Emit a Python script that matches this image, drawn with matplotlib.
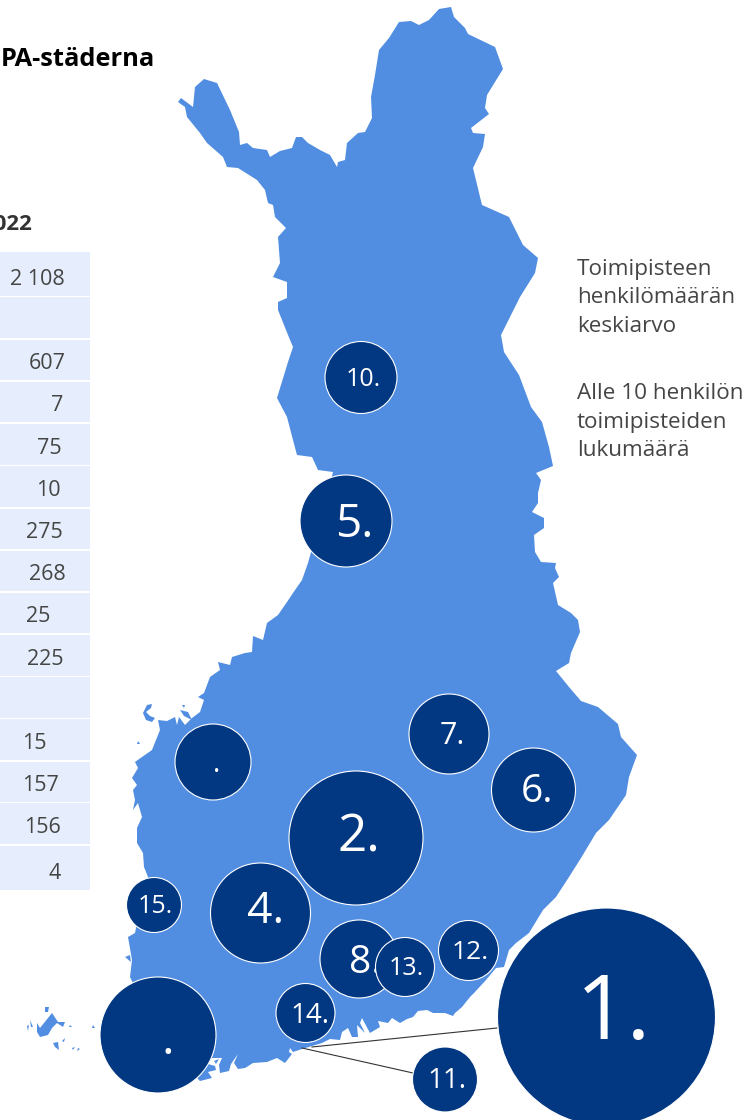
import matplotlib
matplotlib.use('Agg')
from matplotlib import pyplot as plt
from matplotlib.patches import Circle, Polygon, Rectangle

plt.rcParams['font.family'] = ['Open Sans', 'DejaVu Sans']

# map outline in pixels
map_xy = [
    (178, 102), (181, 98), (193, 107), (195, 87), (204, 79), (217, 83), (230, 110), (239, 132),
    (240, 145), (247, 143), (253, 148), (267, 150), (270, 157), (280, 151), (292, 148), (296, 137),
    (302, 137), (308, 143), (320, 150), (330, 155), (337, 167), (338, 162), (345, 160), (347, 143),
    (358, 133), (365, 132), (372, 118), (371, 97), (375, 75), (379, 50), (389, 38), (399, 22),
    (411, 21), (419, 25), (429, 20), (439, 9), (451, 7), (454, 17), (465, 28), (468, 34),
    (495, 47), (503, 69), (487, 95), (485, 108), (489, 114), (471, 128), (473, 133), (485, 134),
    (483, 147), (473, 168), (482, 205), (509, 217), (523, 245), (538, 258), (535, 273), (520, 297),
    (501, 335), (504, 352), (519, 375), (531, 407), (542, 422), (549, 447), (553, 466), (536, 473),
    (541, 480), (538, 493), (538, 503), (532, 512), (544, 518), (544, 528), (534, 535), (535, 552),
    (541, 562), (556, 563), (555, 568), (559, 577), (553, 583), (558, 605), (571, 613), (578, 620),
    (580, 632), (571, 653), (569, 663), (556, 671), (569, 687), (581, 701), (598, 707), (618, 724),
    (621, 737), (637, 755), (629, 777), (626, 795), (609, 820), (596, 833), (581, 858), (569, 877),
    (556, 897), (543, 910), (529, 933), (516, 943), (509, 950), (504, 967), (496, 968), (486, 980),
    (474, 993), (470, 997), (462, 1007), (455, 1013), (453, 1016), (445, 1013), (433, 1013), (427, 1010),
    (418, 1011), (413, 1017), (407, 1019), (400, 1023), (392, 1018), (388, 1023), (378, 1021), (380, 1027),
    (370, 1033), (362, 1018), (360, 1023), (365, 1033), (357, 1025), (358, 1037), (352, 1037), (348, 1028),
    (342, 1032), (340, 1040), (330, 1039), (322, 1043), (302, 1049), (293, 1052), (290, 1048), (289, 1052),
    (292, 1054), (285, 1063), (277, 1058), (267, 1062), (253, 1063), (245, 1068), (238, 1069), (234, 1063),
    (238, 1054), (231, 1064), (229, 1071), (220, 1073), (219, 1065), (222, 1058), (212, 1058), (208, 1064),
    (215, 1066), (216, 1070), (208, 1072), (212, 1078), (200, 1081), (160, 1040), (130, 977), (132, 960),
    (128, 937), (135, 933), (137, 923), (148, 877), (144, 867), (143, 853), (137, 843), (137, 828),
    (142, 817), (138, 803), (133, 810), (135, 800), (133, 790), (137, 785), (132, 778), (138, 768),
    (135, 762), (142, 757), (152, 750), (160, 730), (158, 720), (167, 721), (175, 717), (177, 725),
    (179, 717), (185, 725), (192, 718), (200, 712), (204, 700), (198, 697), (204, 693), (210, 677),
    (220, 670), (218, 662), (230, 665), (232, 657), (245, 653), (252, 652), (253, 636), (263, 640),
    (267, 623), (278, 615), (287, 602), (293, 593), (302, 580), (308, 563), (320, 520), (333, 472),
    (318, 470), (312, 457), (297, 455), (293, 440), (287, 417), (277, 398), (288, 362), (293, 347),
    (288, 335), (278, 310), (278, 302), (287, 298), (287, 282), (273, 277), (280, 263), (278, 237),
    (286, 228), (275, 217), (273, 205), (268, 203), (265, 190), (257, 180), (238, 168), (227, 167),
    (223, 157), (207, 143), (200, 133), (187, 117), (185, 107),
]
# Aland and the small islands along the coast
islands_xy = [
    [(37, 1023), (40, 1028), (48, 1018), (52, 1013), (58, 1022), (65, 1022), (63, 1027), (57, 1023),
     (52, 1028), (48, 1035), (40, 1037), (37, 1032)],
    [(45, 1007), (49, 1007), (48, 1012), (45, 1012)],
    [(30, 1020), (33, 1027), (31, 1027)],
    [(27, 1026), (29, 1025), (28, 1031)],
    [(53, 1043), (58, 1042), (59, 1050), (55, 1047)],
    [(62, 1041), (65, 1038), (64, 1042)],
    [(70, 1025), (72, 1027), (69, 1027)],
    [(72, 1048), (75, 1047), (73, 1050)],
    [(78, 1048), (80, 1049), (77, 1051)],
    [(93, 1025), (95, 1028), (92, 1028)],
    [(143, 713), (147, 705), (152, 704), (151, 708), (146, 712), (150, 716), (155, 718), (152, 722), (146, 720)],
    [(138, 741), (140, 744), (137, 744)],
    [(180, 710), (188, 712), (192, 720), (184, 716)],
    [(182, 705), (185, 705), (184, 708)],
    [(125, 957), (130, 955), (131, 962)],
    [(214, 1061), (219, 1059), (216, 1064)],
]

# bubbles
bubble_x = [606.5, 356, 260.5, 346, 533.5, 449, 359, 361, 445, 468.5, 405, 305.5, 154, 158, 213]
bubble_y = [1017, 838, 913, 521, 790, 734, 959, 377.5, 1079.5, 950.5, 967, 1013, 905, 1035, 762]
bubble_r = [109, 67, 50, 46, 42, 40, 39, 36, 32.5, 30, 29.5, 29.5, 27.5, 58, 38]
bubble_labels = ['1.', '2.', '4.', '5.', '6.', '7.', '8.', '10.', '11.', '12.', '13.', '14.', '15.', '.', '.']
label_x = [613, 359, 266, 354, 537, 452, 365, 363, 447, 470, 406, 310, 155, 168, 217]
label_y = [1039, 852, 923, 537, 802, 744, 973, 386, 1088, 959, 975, 1023, 913, 1054, 772]
label_size = [65, 37, 32, 33, 28, 22, 28, 18, 20, 19, 18, 20, 18, 35, 20]

# table column
table_values = ['2 108', '', '607', '7', '75', '10', '275', '268', '25', '225', '', '15', '157', '156', '4']
row_top = [252, 297, 340, 382, 424, 466, 509, 551, 593, 635, 677, 719, 762, 803, 846]
row_bottom = [296, 338, 380, 422, 465, 507, 549, 591, 633, 676, 718, 760, 802, 844, 890]
value_right = [65, 65, 66, 63, 62, 61, 63, 66, 50, 63, 63, 47, 59, 61, 61]

legend_lines = ['Toimipisteen', 'henkilömäärän', 'keskiarvo', 'Alle 10 henkilön', 'toimipisteiden', 'lukumäärä']
legend_y = [275, 303, 332, 399, 428, 456]

leader_x = [[312, 497], [302, 413]]
leader_y = [[1047, 1028], [1048, 1073]]

MAP_BLUE = '#518EE1'
DARK_BLUE = '#023781'
TABLE_BLUE = '#E6EEFD'
GREY = '#454545'

fig = plt.figure(figsize=(7.51, 11.2), dpi=100)
ax = fig.add_axes([0, 0, 1, 1])
ax.set_xlim(0, 751)
ax.set_ylim(1120, 0)
ax.axis('off')

ax.add_patch(Polygon(map_xy, closed=True, fc=MAP_BLUE, ec='none', zorder=1))
for island in islands_xy:
    ax.add_patch(Polygon(island, closed=True, fc=MAP_BLUE, ec='none', zorder=1))

for xs, ys in zip(leader_x, leader_y):
    ax.plot(xs, ys, color='#333333', lw=0.8, zorder=2)

# order matters, 13 sits on top of 8
for i in range(len(bubble_x)):
    ax.add_patch(Circle((bubble_x[i], bubble_y[i]), bubble_r[i], fc=DARK_BLUE, ec='white', lw=0.8, zorder=3 + i * 0.01))
    ax.text(label_x[i], label_y[i], bubble_labels[i], color='white', fontsize=label_size[i],
            ha='center', va='baseline', zorder=3 + i * 0.01)

for i in range(len(table_values)):
    ax.add_patch(Rectangle((0, row_top[i]), 90, row_bottom[i] - row_top[i], fc=TABLE_BLUE, ec='none'))
    ax.text(value_right[i], row_bottom[i] - 11, table_values[i], color=GREY, fontsize=15.5, ha='right', va='baseline')

ax.text(155, 66, 'PA-städerna', color='black', fontsize=18.3, fontweight='bold', ha='right', va='baseline')
ax.text(32, 230, '2022', color='#333333', fontsize=16, fontweight='bold', ha='right', va='baseline')

for line, y in zip(legend_lines, legend_y):
    ax.text(577, y, line, color=GREY, fontsize=16.2, ha='left', va='baseline')

fig.savefig('out.png', dpi=100)
